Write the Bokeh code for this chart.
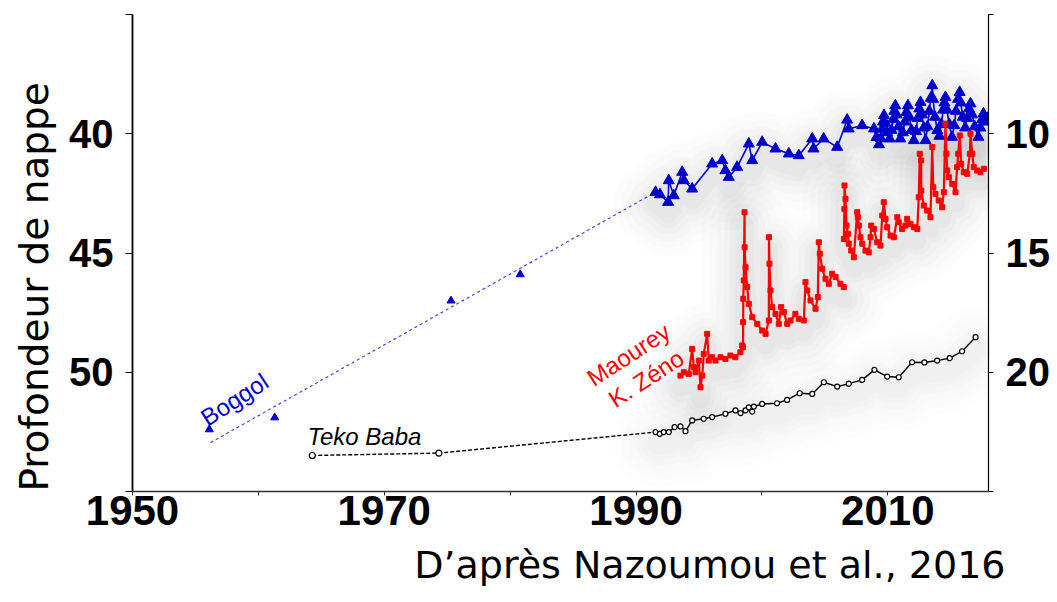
import numpy as np
from bokeh.plotting import figure
from bokeh.models import Range1d, LinearAxis, FixedTicker, Label, Title
from bokeh.embed import file_html
from bokeh.resources import INLINE

nan = np.nan

# ---- Axes ticks -----------------------------------------------------------
x_ticks = [1950, 1960, 1970, 1980, 1990, 2000, 2010]
x_tick_labels = ["1950", "", "1970", "", "1990", "", "2010"]
left_ticks = [35, 40, 45, 50, 55]
left_tick_labels = ["", "40", "45", "50", ""]
right_ticks = [5, 10, 15, 20, 25]
right_tick_labels = ["", "10", "15", "20", ""]

# ---- Boggol (left axis, depth in m) -----------------------------------------
boggol_early_year = [1956.1, 1961.3, 1975.3, 1980.8]
boggol_early_depth = [52.4, 51.9, 47.0, 45.9]
boggol_trend_year = [1956.2, 1991.55]
boggol_trend_depth = [52.95, 42.45]

boggol_year = [
    1991.55, 1991.9, 1992.55, 1992.6, 1993.0, 1993.67, 1993.8, 1994.46,
    1996.05, 1996.85, 1997.1, 1997.37, 1998.03, 1998.96, 1999.23, 2000.02,
    2001.08, 2002.14, 2002.93, 2004.0, 2004.1, 2004.9, 2005.98, 2006.77,
    2006.9, 2007.96, 2008.9,
    2009.1, 2009.3, 2009.45, 2009.55, 2009.62, 2009.7, 2009.8, 2009.95,
    2010.15, 2010.3, 2010.42, 2010.52, 2010.6, 2010.7, 2010.85,
    2011.0, 2011.2, 2011.35, 2011.48, 2011.6, 2011.72, 2011.88,
    2012.07, 2012.25, 2012.38, 2012.5, 2012.6, 2012.72, 2012.86,
    2013.0, 2013.15, 2013.3, 2013.42, 2013.53, 2013.6, 2013.75, 2013.93,
    2014.1, 2014.25, 2014.4, 2014.5, 2014.58, 2014.7, 2014.88,
    2015.1, 2015.28, 2015.42, 2015.58, 2015.71, 2015.8, 2015.95,
    2016.15, 2016.3, 2016.45, 2016.57, 2016.7, 2016.9,
    2017.2, 2017.35, 2017.5, 2017.6, 2017.75, 2017.92,
]
boggol_depth = [
    42.45, 42.55, 42.87, 41.96, 42.59, 41.61, 41.96, 42.31,
    41.26, 41.12, 41.54, 41.82, 41.40, 40.42, 41.12, 40.35,
    40.63, 40.84, 40.91, 40.21, 40.63, 40.21, 40.56, 39.42,
    39.79, 39.65, 39.79,
    40.15, 40.45, 40.2, 39.8, 39.5, 39.23, 39.55, 39.95,
    40.21, 39.85, 39.4, 39.05, 38.82, 39.2, 39.7,
    40.21, 39.95, 39.5, 39.1, 38.82, 39.3, 39.85,
    40.28, 39.9, 39.35, 38.95, 38.68, 39.2, 39.75,
    40.28, 39.7, 39.05, 38.5, 37.98, 38.55, 39.3, 39.86,
    40.1, 39.6, 39.0, 38.7, 38.47, 39.0, 39.6,
    40.14, 39.65, 39.05, 38.55, 38.26, 38.7, 39.3,
    39.75, 39.35, 38.95, 38.74, 39.2, 39.7,
    40.14, 39.75, 39.4, 39.16, 39.5, 39.35,
]

# ---- Maourey K. Zeno (right axis, depth in m) -------------------------------
maourey_year = [
    1993.53, 1993.8, 1994.19, 1994.46, 1994.59, 1994.73, 1994.99, 1995.12,
    1995.26, 1995.38, 1995.65, 1995.78, 1996.05, 1996.31, 1996.71, 1997.1,
    1997.5, 1997.89, 1998.29, 1998.43, 1998.5, 1998.51, 1998.52, 1998.56,
    1998.62, 1998.63, 1998.7, 1998.83, 1998.96, 1999.23, 1999.63, 2000.02,
    2000.29, 2000.55, 2000.56, 2000.6, 2000.68, 2000.82, 2001.08, 2001.34,
    2001.53, 2001.74, 2002.01, 2002.27, 2002.66, 2002.93, 2003.33, 2003.46,
    2003.6, 2003.86, 2004.26, 2004.44, 2004.52, 2004.6, 2004.79, 2005.05,
    2005.31, 2005.58, 2005.85, 2006.24, 2006.5,
    nan,
    2006.51, 2006.55, 2006.56, 2006.64, 2006.72, 2006.83, 2006.9, 2007.09,
    2007.3, 2007.57, 2007.62, 2007.7, 2007.83, 2007.97, 2008.23, 2008.49,
    2008.63, 2008.68, 2008.89, 2009.16, 2009.42, 2009.56, 2009.68, 2009.82,
    2009.95, 2010.22, 2010.48, 2010.75, 2010.87, 2011.14, 2011.4, 2011.54,
    2011.8, 2012.07, 2012.34, 2012.46, 2012.54, 2012.65, 2012.66, 2012.86,
    2013.13, 2013.39, 2013.53, 2013.61, 2013.79, 2014.05, 2014.32, 2014.45,
    2014.58, 2014.66, 2014.72, 2014.85, 2015.12, 2015.38, 2015.51, 2015.59,
    2015.72, 2015.83, 2016.04, 2016.31, 2016.52, 2016.57, 2016.71, 2016.83,
    2017.1, 2017.36, 2017.63,
]
maourey_depth = [
    20.14, 20.0, 20.07, 19.02, 19.79, 20.0, 19.51, 20.63,
    20.14, 19.23, 18.39, 19.51, 19.37, 19.51, 19.37, 19.44,
    19.30, 19.37, 19.16, 18.88, 18.95, 17.9, 16.92, 16.15,
    13.29, 14.76, 15.6, 16.43, 17.13, 17.69, 17.97, 18.25,
    18.39, 17.83, 14.34, 15.45, 16.57, 17.27, 17.55, 17.97,
    17.27, 17.48, 17.97, 17.83, 17.55, 17.76, 17.83, 16.22,
    16.57, 16.99, 17.34, 16.85, 14.55, 15.03, 15.66, 16.08,
    16.29, 15.87, 16.01, 16.29, 16.43,
    nan,
    14.41, 13.15, 12.17, 12.73, 13.85, 14.2, 14.61, 14.9,
    15.18, 13.29, 13.5, 13.85, 14.34, 14.61, 14.9, 14.97,
    14.34, 13.85, 13.99, 14.55, 14.69, 13.43, 12.87, 13.57,
    13.92, 14.27, 14.34, 13.5, 13.71, 13.99, 13.85, 13.57,
    13.78, 13.92, 13.99, 12.66, 10.84, 11.12, 12.38, 13.01,
    13.22, 13.5, 10.56, 12.24, 12.52, 12.8, 13.08, 12.45,
    9.58, 10.84, 11.54, 11.82, 12.1, 12.45, 11.4, 10.84,
    10.07, 11.26, 11.61, 11.68, 10.84, 10.0, 10.84, 11.4,
    11.54, 11.61, 11.47,
]

# ---- Teko Baba (right axis, depth in m) -------------------------------------
teko_early_year = [1964.28, 1974.34, 1991.55]
teko_early_depth = [23.49, 23.39, 22.51]
teko_year = [
    1991.55, 1991.89, 1992.2, 1992.6, 1993.06, 1993.53, 1993.93, 1994.46,
    1995.38, 1996.05, 1997.1, 1997.9, 1998.3, 1998.7, 1998.96, 1999.23,
    1999.36, 2000.02, 2001.2, 2002.0, 2003.0, 2004.0, 2004.92, 2005.98,
    2006.9, 2007.96, 2008.94, 2009.95, 2010.87, 2011.93, 2012.91, 2013.92,
    2014.92, 2015.9, 2016.97,
]
teko_depth = [
    22.51, 22.58, 22.51, 22.51, 22.3, 22.27, 22.47, 22.02,
    21.95, 21.88, 21.74, 21.6, 21.71, 21.6, 21.47, 21.65,
    21.44, 21.33, 21.3, 21.16, 20.88, 20.91, 20.42, 20.6,
    20.48, 20.32, 19.9, 20.18, 20.21, 19.58, 19.59, 19.51,
    19.41, 19.12, 18.53,
]

BLUE = "#0000CC"
RED = "#FF0000"
BLACK = "#000000"
LABEL_FONT = "Liberation Sans"
TEXT_FONT = "DejaVu Sans"

p = figure(
    width=1057, height=602,
    x_range=Range1d(1950, 2018), y_range=Range1d(55, 35),
    output_backend="svg", toolbar_location=None,
    min_border_left=132, min_border_right=69,
    min_border_top=14, min_border_bottom=111,
)
p.extra_y_ranges = {"right": Range1d(25, 5)}
p.grid.visible = False
p.outline_line_color = None
p.background_fill_color = "white"
p.border_fill_color = "white"

# bottom axis
xa = p.xaxis[0]
xa.ticker = FixedTicker(ticks=x_ticks)
xa.major_label_overrides = dict(zip(x_ticks, x_tick_labels))
xa.minor_tick_line_color = None
xa.major_tick_in = 0
xa.major_tick_out = 4
xa.axis_line_color = "#333333"
xa.axis_line_width = 1.5
xa.major_tick_line_color = "#333333"
xa.major_label_standoff = 0
xa.major_label_text_font = LABEL_FONT
xa.major_label_text_font_style = "bold"
xa.major_label_text_font_size = "42px"
xa.major_label_text_color = BLACK

# left axis
ya = p.yaxis[0]
ya.ticker = FixedTicker(ticks=left_ticks)
ya.major_label_overrides = dict(zip(left_ticks, left_tick_labels))
ya.minor_tick_line_color = None
ya.major_tick_in = 0
ya.major_tick_out = 7
ya.axis_line_color = BLACK
ya.axis_line_width = 1.8
ya.major_tick_line_color = BLACK
ya.major_label_standoff = 12
ya.major_label_text_font = LABEL_FONT
ya.major_label_text_font_style = "bold"
ya.major_label_text_font_size = "40px"
ya.major_label_text_color = BLACK

# right axis
ra = LinearAxis(y_range_name="right")
ra.ticker = FixedTicker(ticks=right_ticks)
ra.major_label_overrides = dict(zip(right_ticks, right_tick_labels))
ra.minor_tick_line_color = None
ra.major_tick_in = 0
ra.major_tick_out = 5
ra.axis_line_color = BLACK
ra.axis_line_width = 1.2
ra.major_tick_line_color = BLACK
ra.major_label_standoff = 12
ra.major_label_text_font = LABEL_FONT
ra.major_label_text_font_style = "bold"
ra.major_label_text_font_size = "40px"
ra.major_label_text_color = BLACK
p.add_layout(ra, "right")

# axis title on the left, and source note under the x axis
p.add_layout(Title(text="Profondeur de nappe", align="left", offset=0,
                   text_font=TEXT_FONT, text_font_size="39px",
                   text_font_style="normal", text_color=BLACK,
                   standoff=19), "left")
p.add_layout(Title(text="D’après Nazoumou et al., 2016", align="right",
                   offset=-17, text_font=TEXT_FONT, text_font_size="38px",
                   text_font_style="normal", text_color=BLACK,
                   standoff=27), "below")

# soft drop shadow under the curves
SHADOW_DY = 0.5
for w, a in [(84, 0.018), (68, 0.02), (54, 0.022), (40, 0.025), (28, 0.028),
             (18, 0.03)]:
    p.line(boggol_year, [d + SHADOW_DY for d in boggol_depth],
           line_color="#555555", line_alpha=a, line_width=w,
           line_join="round", line_cap="round")
    p.line(maourey_year, [d + SHADOW_DY for d in maourey_depth],
           line_color="#555555", line_alpha=a, line_width=w,
           line_join="round", line_cap="round", y_range_name="right")
    p.line(teko_year, [d + SHADOW_DY for d in teko_depth],
           line_color="#555555", line_alpha=a * 0.6, line_width=w,
           line_join="round", line_cap="round", y_range_name="right")

# Boggol
p.line(boggol_trend_year, boggol_trend_depth, line_color="#4646EE",
       line_width=1.2, line_dash="3 3")
p.scatter(boggol_early_year, boggol_early_depth, marker="triangle",
          size=8, color=BLUE)
p.line(boggol_year, boggol_depth, line_color=BLUE, line_width=1.6,
       line_join="round")
p.scatter(boggol_year, boggol_depth, marker="triangle", size=11, color=BLUE)

# Maourey K. Zeno
p.line(maourey_year, maourey_depth, line_color=RED, line_width=2.2,
       line_join="round", y_range_name="right")
p.scatter(maourey_year, maourey_depth, marker="square", size=5, color=RED,
          y_range_name="right")

# Teko Baba
p.line(teko_early_year, teko_early_depth, line_color=BLACK, line_width=1.4,
       line_dash="4 2", y_range_name="right")
p.line(teko_year, teko_depth, line_color=BLACK, line_width=1.4,
       y_range_name="right")
p.scatter(teko_early_year[:2], teko_early_depth[:2], marker="circle", size=6,
          fill_color="white", line_color=BLACK, line_width=1.2,
          y_range_name="right")
p.scatter(teko_year, teko_depth, marker="circle", size=5, fill_color="white",
          line_color=BLACK, line_width=1.2, y_range_name="right")

# series names
p.add_layout(Label(x=1958.1, y=51.14, text="Boggol", text_color=BLUE,
                   text_font=LABEL_FONT, text_font_size="24px",
                   angle=33, angle_units="deg",
                   text_align="center", text_baseline="middle"))
p.add_layout(Label(x=1963.9, y=52.7, text="Teko Baba", text_color=BLACK,
                   text_font=LABEL_FONT, text_font_size="24px",
                   text_font_style="italic",
                   text_align="left", text_baseline="alphabetic"))
p.add_layout(Label(x=1989.4, y=49.26, text="Maourey", text_color=RED,
                   text_font=LABEL_FONT, text_font_size="24px",
                   angle=33, angle_units="deg",
                   text_align="center", text_baseline="middle"))
p.add_layout(Label(x=1990.8, y=50.26, text="K. Zéno", text_color=RED,
                   text_font=LABEL_FONT, text_font_size="24px",
                   angle=33, angle_units="deg",
                   text_align="center", text_baseline="middle"))

open("out.html", "w").write(file_html(p, INLINE))
